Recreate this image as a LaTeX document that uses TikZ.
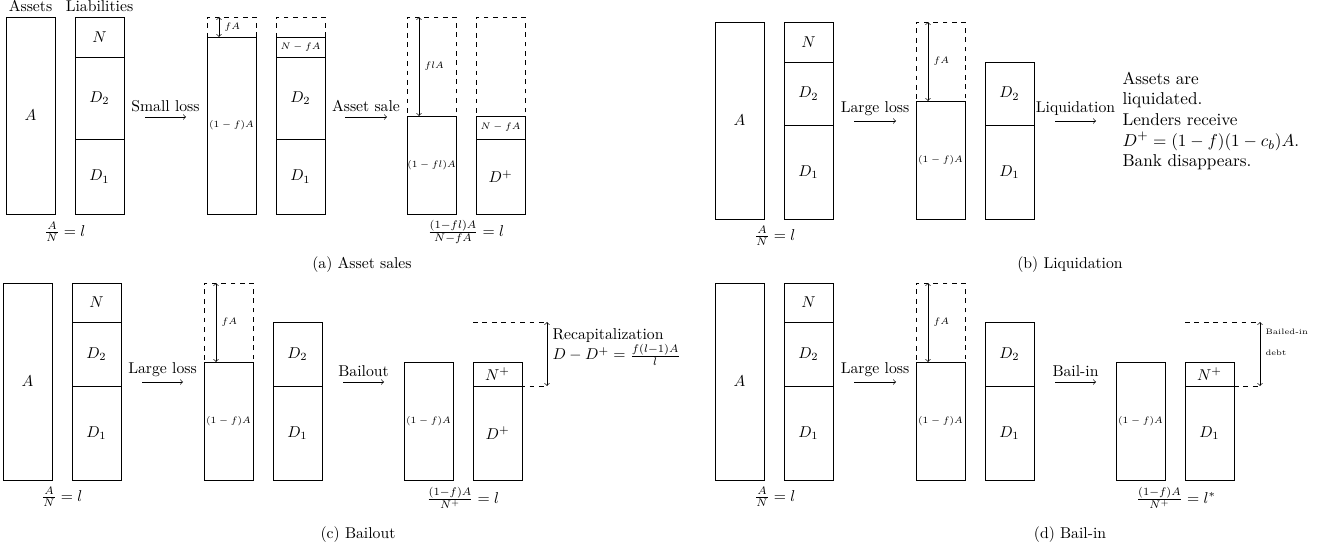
\documentclass[tikz,border=0pt]{standalone}
\usepackage{amsmath,amssymb}
\usetikzlibrary{positioning}
\def\pxu{0.637pt}

\begin{document}
\begin{tikzpicture}[x=\pxu, y=-\pxu,
  seg/.style={draw, rectangle, minimum width=49*\pxu, inner sep=0pt, outer sep=0pt, anchor=north west},
  ghost/.style={seg, dashed},
  lbl/.style={font={\fontsize{6}{7}\selectfont}}]
\useasboundingbox (0,0) rectangle (1333,549);
% (a) Asset sales
\node[seg, minimum height=197*\pxu] (aA) at (6,17) {$A$};
\node[above=0pt of aA] (aAssets) {Assets};
\node[seg, minimum height=40*\pxu] (aN) at (75,17) {$N$};
\node[seg, minimum height=82*\pxu, below=0pt of aN] (aD2) {$D_2$};
\node[seg, minimum height=75*\pxu, below=0pt of aD2] (aD1) {$D_1$};
\node[above=0pt of aN] (aLiab) {Liabilities};
\node (aRatio) at (65,232) {$\frac{A}{N}=l$};
\coordinate (aS1) at (145,117);
\coordinate (aE1) at (186,117);
\draw[->] (aS1) -- node[above] (aStep1) {Small loss} (aE1);
\node[ghost, minimum height=197*\pxu] (aG3) at (207,17) {};
\node[seg, lbl, minimum height=177*\pxu] (aL3) at (207,37) {$(1-f)A$};
\draw[<->] ([xshift=12*\pxu]aG3.north west) -- node[right, lbl] {$fA$} ([xshift=12*\pxu]aL3.north west);
\node[ghost, minimum height=197*\pxu] (aG4) at (276,17) {};
\node[seg, lbl, minimum height=20*\pxu] (aNf) at (276,37) {$N-fA$};
\node[seg, minimum height=82*\pxu, below=0pt of aNf] (aD2b) {$D_2$};
\node[seg, minimum height=75*\pxu, below=0pt of aD2b] (aD1b) {$D_1$};
\coordinate (aS2) at (345,117);
\coordinate (aE2) at (387,117);
\draw[->] (aS2) -- node[above] (aStep2) {Asset sale} (aE2);
\node[ghost, minimum height=197*\pxu] (aG5) at (407,17) {};
\node[seg, lbl, minimum height=98*\pxu] (aL5) at (407,116) {$(1-fl)A$};
\draw[<->] ([xshift=12*\pxu]aG5.north west) -- node[right, lbl] {$flA$} ([xshift=12*\pxu]aL5.north west);
\node[ghost, minimum height=197*\pxu] (aG6) at (476,17) {};
\node[seg, lbl, minimum height=23*\pxu] (aNf2) at (476,116) {$N-fA$};
\node[seg, minimum height=75*\pxu, below=0pt of aNf2] (aDp) {$D^+$};
\node (aRatio2) at (466,232) {$\frac{(1-fl)A}{N-fA}=l$};
\node (aCap) at (362,265) {(a) Asset sales};
% (b) Liquidation
\node[seg, minimum height=197*\pxu] (bA) at (715,22) {$A$};
\node[seg, minimum height=40*\pxu] (bN) at (784,22) {$N$};
\node[seg, minimum height=63*\pxu, below=0pt of bN] (bD2) {$D_2$};
\node[seg, minimum height=94*\pxu, below=0pt of bD2] (bD1) {$D_1$};
\node (bRatio) at (775,236) {$\frac{A}{N}=l$};
\coordinate (bS1) at (854,121);
\coordinate (bE1) at (896,121);
\draw[->] (bS1) -- node[above] (bStep1) {Large loss} (bE1);
\node[ghost, minimum height=197*\pxu] (bG3) at (916,22) {};
\node[seg, lbl, minimum height=118*\pxu] (bL3) at (916,101) {$(1-f)A$};
\draw[<->] ([xshift=12*\pxu]bG3.north west) -- node[right, lbl] {$fA$} ([xshift=12*\pxu]bL3.north west);
\node[seg, minimum height=63*\pxu] (bD2b) at (985,62) {$D_2$};
\node[seg, minimum height=94*\pxu, below=0pt of bD2b] (bD1b) {$D_1$};
\coordinate (bS2) at (1055,121);
\coordinate (bE2) at (1096,121);
\draw[->] (bS2) -- node[above] (bStep2) {Liquidation} (bE2);
\node[anchor=west, align=left, font={\fontsize{10.95}{13.2}\selectfont}] (bText) at (1117,121) {Assets are\\liquidated.\\Lenders receive\\$D^+=(1-f)(1-c_b)A$.\\Bank disappears.};
\node (bCap) at (1070,265) {(b) Liquidation};
% (c) Bailout
\node[seg, minimum height=197*\pxu] (cA) at (3,283) {$A$};
\node[seg, minimum height=39*\pxu] (cN) at (72,283) {$N$};
\node[seg, minimum height=64*\pxu, below=0pt of cN] (cD2) {$D_2$};
\node[seg, minimum height=94*\pxu, below=0pt of cD2] (cD1) {$D_1$};
\node (cRatio) at (62,497) {$\frac{A}{N}=l$};
\coordinate (cS1) at (142,382);
\coordinate (cE1) at (183,382);
\draw[->] (cS1) -- node[above] (cStep1) {Large loss} (cE1);
\node[ghost, minimum height=197*\pxu] (cG3) at (204,283) {};
\node[seg, lbl, minimum height=118*\pxu] (cL3) at (204,362) {$(1-f)A$};
\draw[<->] ([xshift=12*\pxu]cG3.north west) -- node[right, lbl] {$fA$} ([xshift=12*\pxu]cL3.north west);
\node[seg, minimum height=64*\pxu] (cD2b) at (273,322) {$D_2$};
\node[seg, minimum height=94*\pxu, below=0pt of cD2b] (cD1b) {$D_1$};
\coordinate (cS2) at (343,382);
\coordinate (cE2) at (384,382);
\draw[->] (cS2) -- node[above] (cStep2) {Bailout} (cE2);
\node[seg, lbl, minimum height=118*\pxu] (cL5) at (404,362) {$(1-f)A$};
\node[seg, minimum height=24*\pxu] (cNp) at (473,362) {$N^+$};
\node[seg, minimum height=94*\pxu, below=0pt of cNp] (cDp) {$D^+$};
\coordinate (cTopL) at (473,322);
\coordinate (cTop) at (547,322);
\coordinate (cBot) at (547,386);
\draw[dashed] (cTopL) -- (cTop);
\draw[dashed] (cNp.south west) -- (cBot);
\draw[<->] (cTop) -- (cBot);
\node[anchor=west, align=left] (cText) at (547,347) {Recapitalization\\$D-D^+=\frac{f(l-1)A}{l}$};
\node (cRatio2) at (463,498) {$\frac{(1-f)A}{N^+}=l$};
\node (cCap) at (358,535) {(c) Bailout};
% (d) Bail-in
\node[seg, minimum height=197*\pxu] (dA) at (715,283) {$A$};
\node[seg, minimum height=39*\pxu] (dN) at (784,283) {$N$};
\node[seg, minimum height=64*\pxu, below=0pt of dN] (dD2) {$D_2$};
\node[seg, minimum height=94*\pxu, below=0pt of dD2] (dD1) {$D_1$};
\node (dRatio) at (775,497) {$\frac{A}{N}=l$};
\coordinate (dS1) at (854,382);
\coordinate (dE1) at (896,382);
\draw[->] (dS1) -- node[above] (dStep1) {Large loss} (dE1);
\node[ghost, minimum height=197*\pxu] (dG3) at (916,283) {};
\node[seg, lbl, minimum height=118*\pxu] (dL3) at (916,362) {$(1-f)A$};
\draw[<->] ([xshift=12*\pxu]dG3.north west) -- node[right, lbl] {$fA$} ([xshift=12*\pxu]dL3.north west);
\node[seg, minimum height=64*\pxu] (dD2b) at (985,322) {$D_2$};
\node[seg, minimum height=94*\pxu, below=0pt of dD2b] (dD1b) {$D_1$};
\coordinate (dS2) at (1055,382);
\coordinate (dE2) at (1096,382);
\draw[->] (dS2) -- node[above] (dStep2) {Bail-in} (dE2);
\node[seg, lbl, minimum height=118*\pxu] (dL5) at (1116,362) {$(1-f)A$};
\node[seg, minimum height=24*\pxu] (dNp) at (1185,362) {$N^+$};
\node[seg, minimum height=94*\pxu, below=0pt of dNp] (dD1c) {$D_1$};
\coordinate (dTopL) at (1185,322);
\coordinate (dTop) at (1260,322);
\coordinate (dBot) at (1260,386);
\draw[dashed] (dTopL) -- (dTop);
\draw[dashed] (dNp.south east) -- (dBot);
\draw[<->] (dTop) -- (dBot);
\node[anchor=west, align=left, font=\tiny] (dText) at (1260,342) {Bailed-in\\[7.4pt]debt};
\node (dRatio2) at (1176,498) {$\frac{(1-f)A}{N^+}=l^*$};
\node (dCap) at (1070,535) {(d) Bail-in};
\end{tikzpicture}
\end{document}
